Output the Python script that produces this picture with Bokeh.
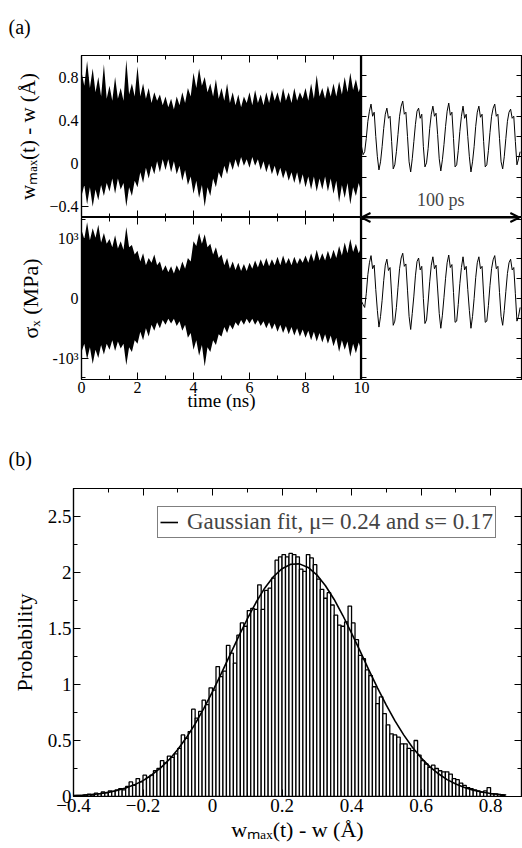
import numpy as np
from bokeh.plotting import figure
from bokeh.models import (Range1d, LinearAxis, SingleIntervalTicker, FixedTicker,
                          BasicTickFormatter, Label, Arrow, OpenHead, Legend, LegendItem)
from bokeh.layouts import column, row
from bokeh.embed import file_html
from bokeh.resources import INLINE

FONT = "Liberation Serif"

# ---------------- data: panel (a), full trajectory envelope (0.1 ns steps) ----------------
time_ns = [round(0.1 * i, 1) for i in range(101)]
w_upper = [0.85, 0.72, 0.95, 0.70, 0.88, 0.66, 0.80, 0.62, 0.92, 0.60,
           0.72, 0.58, 0.80, 0.60, 0.70, 0.58, 0.96, 0.64, 0.74, 0.62,
           0.90, 0.62, 0.74, 0.60, 0.70, 0.56, 0.66, 0.58, 0.64, 0.54,
           0.62, 0.52, 0.60, 0.50, 0.62, 0.54, 0.66, 0.56, 0.70, 0.62,
           0.84, 0.70, 0.88, 0.72, 0.80, 0.66, 0.74, 0.62, 0.78, 0.60,
           0.70, 0.58, 0.74, 0.56, 0.66, 0.54, 0.64, 0.52, 0.62, 0.56,
           0.66, 0.54, 0.68, 0.56, 0.64, 0.54, 0.66, 0.56, 0.68, 0.58,
           0.66, 0.56, 0.70, 0.58, 0.66, 0.56, 0.70, 0.58, 0.66, 0.60,
           0.70, 0.58, 0.74, 0.60, 0.82, 0.62, 0.70, 0.60, 0.72, 0.62,
           0.74, 0.62, 0.76, 0.64, 0.80, 0.66, 0.84, 0.68, 0.78, 0.66, 0.74]
w_lower = [-0.30, -0.20, -0.38, -0.22, -0.40, -0.24, -0.34, -0.20, -0.30, -0.18,
           -0.26, -0.14, -0.28, -0.14, -0.24, -0.18, -0.40, -0.22, -0.30, -0.16,
           -0.22, -0.08, -0.18, -0.04, -0.14, -0.02, -0.10, 0.02, -0.08, 0.04,
           -0.06, 0.04, -0.08, 0.02, -0.10, -0.02, -0.16, -0.06, -0.20, -0.12,
           -0.28, -0.16, -0.32, -0.20, -0.40, -0.22, -0.30, -0.14, -0.22, -0.08,
           -0.14, -0.02, -0.10, 0.02, -0.06, 0.04, -0.04, 0.06, -0.02, 0.04,
           -0.04, 0.06, -0.02, 0.04, -0.06, 0.02, -0.08, 0.00, -0.10, -0.02,
           -0.12, -0.04, -0.14, -0.06, -0.16, -0.08, -0.18, -0.08, -0.20, -0.10,
           -0.22, -0.12, -0.24, -0.12, -0.26, -0.14, -0.24, -0.12, -0.26, -0.14,
           -0.28, -0.16, -0.36, -0.20, -0.32, -0.18, -0.38, -0.22, -0.30, -0.18, -0.28]
s_upper = [1150, 1000, 1280, 980, 1180, 1020, 1240, 940, 1100, 920,
           1000, 860, 1060, 840, 960, 820, 1200, 860, 900, 740,
           800, 620, 760, 560, 680, 600, 740, 560, 620, 460,
           560, 440, 540, 420, 560, 460, 620, 500, 680, 620,
           960, 880, 1100, 920, 1080, 860, 920, 740, 860, 680,
           740, 560, 680, 500, 620, 480, 600, 460, 580, 460,
           600, 500, 640, 520, 660, 540, 680, 540, 660, 560,
           700, 560, 720, 580, 680, 560, 700, 580, 680, 600,
           720, 600, 760, 620, 820, 640, 760, 640, 800, 660,
           820, 680, 880, 720, 940, 760, 1000, 780, 920, 760, 880]
s_lower = [-900, -760, -1020, -820, -1100, -860, -1000, -780, -940, -760,
           -860, -700, -880, -720, -840, -760, -1120, -820, -900, -700,
           -760, -560, -700, -500, -640, -440, -540, -400, -500, -360,
           -440, -340, -420, -340, -460, -380, -540, -440, -660, -580,
           -860, -700, -960, -780, -1140, -820, -900, -700, -780, -600,
           -640, -480, -580, -440, -520, -400, -460, -360, -440, -340,
           -420, -340, -440, -360, -460, -380, -500, -400, -520, -420,
           -560, -440, -580, -460, -600, -480, -620, -500, -640, -520,
           -660, -540, -700, -560, -720, -580, -740, -600, -760, -620,
           -800, -660, -900, -700, -860, -720, -980, -760, -920, -740, -880]

# ---------------- data: panel (a), 100 ps zoom (1 ps steps) ----------------
zoom_ps = list(range(101))
w_zoom = [0.10, 0.02, 0.05, 0.18, 0.35, 0.45, 0.52, 0.40, 0.44, 0.20,
          0.00, -0.13, -0.05, 0.10, 0.28, 0.42, 0.48, 0.38, 0.40, 0.15,
          -0.12, -0.08, 0.05, 0.22, 0.40, 0.50, 0.55, 0.42, 0.44, 0.20,
          -0.05, -0.15, -0.02, 0.15, 0.32, 0.45, 0.48, 0.38, 0.42, 0.10,
          -0.10, -0.06, 0.08, 0.28, 0.42, 0.50, 0.40, 0.43, 0.22, -0.02,
          -0.14, -0.03, 0.12, 0.30, 0.45, 0.53, 0.41, 0.44, 0.18, -0.10,
          -0.08, 0.06, 0.25, 0.40, 0.50, 0.38, 0.42, 0.20, 0.00, -0.15,
          -0.05, 0.10, 0.30, 0.44, 0.50, 0.39, 0.42, 0.15, -0.10, -0.08,
          0.06, 0.24, 0.40, 0.48, 0.52, 0.40, 0.42, 0.18, -0.05, -0.12,
          0.00, 0.18, 0.35, 0.44, 0.47, 0.38, 0.40, 0.15, -0.08, -0.02, 0.05]
s_zoom = [-50, -100, -150, 80, 400, 600, 720, 500, 560, 150,
          -200, -480, -300, -30, 300, 560, 660, 470, 520, 60,
          -450, -380, -150, 180, 500, 680, 760, 540, 580, 140,
          -300, -520, -250, 40, 380, 620, 680, 480, 540, 0,
          -420, -360, -60, 280, 560, 700, 500, 560, 160, -250,
          -500, -280, 20, 340, 600, 730, 520, 570, 100, -400,
          -380, -100, 250, 520, 700, 480, 540, 150, -200, -500,
          -300, 0, 350, 600, 700, 500, 540, 60, -400, -380,
          -120, 220, 500, 650, 720, 500, 540, 100, -300, -450,
          -200, 120, 420, 600, 660, 480, 520, 80, -380, -300, -150]

# ---------------- data: panel (b) ----------------
bin_width = 0.01
hist_centers = [round(-0.395 + 0.01 * i, 3) for i in range(124)]
hist_values = [0.01, 0.01, 0.01, 0.015, 0.02, 0.015, 0.03, 0.025, 0.04, 0.035, 0.05, 0.045, 0.06, 0.07, 0.06, 0.09,
               0.13, 0.10, 0.16, 0.13, 0.19, 0.17, 0.19, 0.23, 0.25, 0.32, 0.30, 0.36, 0.35, 0.38, 0.43, 0.55,
               0.52, 0.58, 0.78, 0.70, 0.76, 0.86, 0.82, 0.97, 0.95, 1.16, 1.07, 1.12, 1.35, 1.28, 1.19, 1.44,
               1.55, 1.52, 1.66, 1.68, 1.67, 1.89, 1.67, 1.84, 1.86, 1.95, 2.11, 2.14, 2.16, 2.14,
               2.17, 2.16, 2.14, 2.03, 2.01, 2.16, 2.13, 2.07, 1.94, 1.85, 1.77, 1.82, 1.71, 1.62, 1.53, 1.52,
               1.56, 1.70, 1.55, 1.40, 1.26, 1.23, 1.13, 1.08, 0.98, 0.83, 0.89, 0.74, 0.64, 0.56, 0.55, 0.53,
               0.47, 0.47, 0.43, 0.41, 0.50, 0.37, 0.32, 0.29, 0.26, 0.28, 0.25, 0.23, 0.22, 0.22, 0.20, 0.16,
               0.15, 0.12, 0.10, 0.08, 0.07, 0.06, 0.05, 0.04, 0.05, 0.08, 0.024, 0.024, 0.018, 0.012]
fit_x = [-0.400, -0.375, -0.350, -0.325, -0.300, -0.275, -0.250, -0.225, -0.200, -0.175,
         -0.150, -0.125, -0.100, -0.075, -0.050, -0.025, 0.000, 0.025, 0.050, 0.075,
         0.100, 0.125, 0.150, 0.175, 0.200, 0.225, 0.250, 0.275, 0.300, 0.325,
         0.350, 0.375, 0.400, 0.425, 0.450, 0.475, 0.500, 0.525, 0.550, 0.575,
         0.600, 0.625, 0.650, 0.675, 0.700, 0.725, 0.750, 0.775, 0.800, 0.825, 0.845]
fit_y = [0.007, 0.011, 0.017, 0.025, 0.037, 0.053, 0.075, 0.104, 0.142, 0.192,
         0.253, 0.329, 0.420, 0.526, 0.649, 0.786, 0.936, 1.097, 1.262, 1.427,
         1.585, 1.732, 1.860, 1.962, 2.034, 2.074, 2.077, 2.045, 1.979, 1.882,
         1.759, 1.616, 1.459, 1.295, 1.129, 0.968, 0.816, 0.675, 0.550, 0.440,
         0.345, 0.267, 0.203, 0.151, 0.111, 0.080, 0.057, 0.040, 0.027, 0.018, 0.013]
legend_text = "Gaussian fit, \u03bc= 0.24 and s= 0.17"


def make_fig(width, height, xr, yr, left, right, top, bottom):
    p = figure(width=width, height=height, x_range=xr, y_range=yr, title=None,
               output_backend="svg", toolbar_location=None,
               x_axis_type=None, y_axis_type=None,
               min_border_left=left, min_border_right=right,
               min_border_top=top, min_border_bottom=bottom)
    p.outline_line_color = "black"
    p.outline_line_width = 1.2
    p.outline_line_alpha = 1.0
    p.background_fill_color = "white"
    p.border_fill_color = None
    return p


def add_axis(p, side, ticker, labels=False, overrides=None, font_size="16px",
             major_in=7, minor_in=4, standoff=3, axis_label=None,
             axis_label_size="21px", axis_label_standoff=5):
    ax = LinearAxis(ticker=ticker)
    ax.major_tick_in = major_in
    ax.major_tick_out = 0
    ax.minor_tick_in = minor_in
    ax.minor_tick_out = 0
    ax.axis_line_color = "black"
    ax.axis_line_width = 1.2
    ax.major_tick_line_color = "black" if major_in > 0 else None
    ax.minor_tick_line_color = "black" if minor_in > 0 else None
    if labels:
        ax.formatter = BasicTickFormatter()
        ax.major_label_text_font = FONT
        ax.major_label_text_font_size = font_size
        ax.major_label_text_color = "black"
        ax.major_label_standoff = standoff
        if overrides:
            ax.major_label_overrides = overrides
    else:
        ax.major_label_text_font_size = "0px"
        ax.major_label_text_color = None
        ax.major_label_standoff = 0
    if axis_label:
        ax.axis_label = axis_label
        ax.axis_label_text_font = FONT
        ax.axis_label_text_font_size = axis_label_size
        ax.axis_label_text_font_style = "normal"
        ax.axis_label_text_color = "black"
        ax.axis_label_standoff = axis_label_standoff
    p.add_layout(ax, side)
    return ax


def caption_strip(height, text, y_text):
    # blank strip that carries a panel caption such as "(a)"
    p = figure(width=522, height=height, x_range=Range1d(0, 522), y_range=Range1d(0, height),
               title=None, output_backend="svg", toolbar_location=None,
               x_axis_type=None, y_axis_type=None,
               min_border_left=0, min_border_right=0, min_border_top=0, min_border_bottom=0)
    p.outline_line_color = None
    p.background_fill_color = None
    p.border_fill_color = None
    p.add_layout(Label(x=8, y=y_text, text=text, text_font=FONT, text_font_size="20px",
                       text_baseline="middle", text_align="left", text_color="black"))
    return p


# ================= caption (a) =================
cap_a = caption_strip(55, "(a)", 29)

# ================= panel (a) : top-left =================
p_tl = make_fig(361, 162, Range1d(0, 10), Range1d(-0.5, 1.0), 81, 0, 0, 0)
p_tl.varea(x=time_ns, y1=w_lower, y2=w_upper, fill_color="black")
add_axis(p_tl, "left", SingleIntervalTicker(interval=0.4, num_minor_ticks=2), labels=True,
         overrides={0: "0"}, axis_label="w\u2098\u2090\u2093(t) - w (\u00c5)", axis_label_standoff=6)
add_axis(p_tl, "above", SingleIntervalTicker(interval=2, num_minor_ticks=2))
add_axis(p_tl, "below", SingleIntervalTicker(interval=2, num_minor_ticks=2))

# ================= panel (a) : top-right (100 ps zoom) =================
p_tr = make_fig(171, 162, Range1d(0, 101.5), Range1d(-0.6, 1.0), 10, 0, 0, 0)
p_tr.margin = (0, 0, 0, -10)
p_tr.line(x=zoom_ps, y=w_zoom, line_color="black", line_width=1)
add_axis(p_tr, "left", SingleIntervalTicker(interval=0.2, num_minor_ticks=0), major_in=5)
add_axis(p_tr, "right", SingleIntervalTicker(interval=0.2, num_minor_ticks=0), major_in=6)
p_tr.add_layout(Label(x=50, y=-0.43, text="100 ps", text_font=FONT, text_font_size="18px",
                      text_baseline="middle", text_align="center"))
p_tr.add_layout(Arrow(start=OpenHead(size=9, line_width=2), end=OpenHead(size=9, line_width=2),
                      x_start=0, y_start=-0.6, x_end=99.5, y_end=-0.6, line_width=2))

# ================= panel (a) : bottom-left =================
p_bl = make_fig(361, 212, Range1d(0, 10), Range1d(-1360, 1360), 81, 0, 0, 50)
p_bl.varea(x=time_ns, y1=s_lower, y2=s_upper, fill_color="black")
add_axis(p_bl, "left", SingleIntervalTicker(interval=1000, num_minor_ticks=3), labels=True,
         overrides={1000: "10\u00b3", 0: "0", -1000: "-10\u00b3"},
         axis_label="\u03c3\u2093 (MPa)", axis_label_size="22px", axis_label_standoff=6)
add_axis(p_bl, "below", SingleIntervalTicker(interval=2, num_minor_ticks=2), labels=True,
         overrides={10: ""}, font_size="16px", standoff=2, axis_label="time (ns)",
         axis_label_size="19px", axis_label_standoff=-6)
add_axis(p_bl, "above", SingleIntervalTicker(interval=2, num_minor_ticks=2))

# ================= panel (a) : bottom-right =================
p_br = make_fig(171, 212, Range1d(0, 101.5), Range1d(-1360, 1360), 10, 0, 0, 50)
p_br.margin = (0, 0, 0, -10)
p_br.line(x=zoom_ps, y=s_zoom, line_color="black", line_width=1)
add_axis(p_br, "left", SingleIntervalTicker(interval=1000 / 3, num_minor_ticks=0), major_in=5)
add_axis(p_br, "right", SingleIntervalTicker(interval=1000 / 3, num_minor_ticks=0), major_in=6)
add_axis(p_br, "below", FixedTicker(ticks=[0]), labels=True, overrides={0: "10"},
         font_size="16px", standoff=2, major_in=0, minor_in=0)
p_br.add_layout(Arrow(start=OpenHead(size=9, line_width=2), end=OpenHead(size=9, line_width=2),
                      x_start=0, y_start=1360, x_end=99.5, y_end=1360, line_width=2))

# ================= caption (b) =================
cap_b = caption_strip(59, "(b)", 30)

# ================= panel (b) =================
p_b = make_fig(522, 360, Range1d(-0.4, 0.889), Range1d(0, 2.75), 73, 1, 0, 52)
p_b.vbar(x=hist_centers, top=hist_values, width=bin_width, bottom=0,
         fill_color="white", line_color="black", line_width=1.3)
fit_r = p_b.line(x=fit_x, y=fit_y, line_color="black", line_width=1.6)
add_axis(p_b, "left", SingleIntervalTicker(interval=0.5, num_minor_ticks=2), labels=True,
         overrides={0: "0", 1: "1", 2: "2"}, font_size="19px", standoff=2,
         axis_label="Probability", axis_label_size="22px", axis_label_standoff=8)
add_axis(p_b, "below", SingleIntervalTicker(interval=0.2, num_minor_ticks=2), labels=True,
         overrides={0: "0"}, font_size="19px", standoff=2,
         axis_label="w\u2098\u2090\u2093(t) - w (\u00c5)", axis_label_size="22px", axis_label_standoff=2)
add_axis(p_b, "above", SingleIntervalTicker(interval=0.2, num_minor_ticks=2))
add_axis(p_b, "right", SingleIntervalTicker(interval=0.5, num_minor_ticks=2))
legend = Legend(items=[LegendItem(label=legend_text, renderers=[fit_r])],
                location=(84, 258), border_line_color="black", border_line_width=1,
                background_fill_color="white", background_fill_alpha=1.0,
                label_text_font=FONT, label_text_font_size="23px", glyph_width=18,
                label_standoff=9, padding=2, margin=0, spacing=0)
p_b.add_layout(legend)

layout = column(row(cap_a), row(p_tl, p_tr), row(p_bl, p_br), row(cap_b), row(p_b))
open("out.html", "w").write(file_html(layout, INLINE))
